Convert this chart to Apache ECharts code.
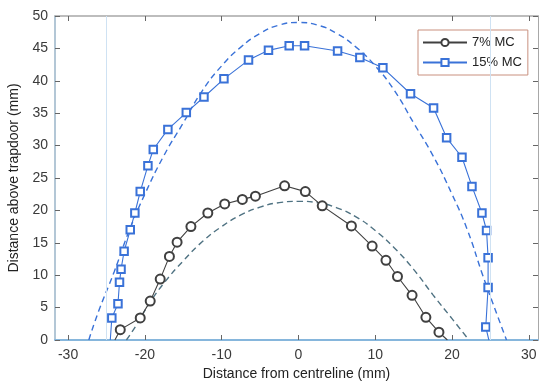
<!DOCTYPE html>
<html>
<head>
<meta charset="utf-8">
<script src="https://cdn.jsdelivr.net/npm/echarts@6/dist/echarts.min.js"></script>
<style>
  html, body { margin: 0; padding: 0; background: #fff; }
  #chart { width: 539px; height: 381px; }
</style>
</head>
<body>
<div id="chart"></div>
<script>
const mc7X = [-23.9, -23.2, -20.6, -19.3, -18.0, -16.8, -15.8, -14.0, -11.8, -9.6, -7.3, -5.6, -1.8, 0.9, 3.1, 6.9, 9.6, 11.4, 12.9, 14.8, 16.6, 18.3, 19.4];
const mc7Y = [0, 1.6, 3.4, 6.0, 9.4, 12.9, 15.1, 17.5, 19.6, 21.0, 21.7, 22.2, 23.8, 22.9, 20.7, 17.6, 14.5, 12.3, 9.8, 6.9, 3.5, 1.2, 0];

const mc15X = [-24.5, -24.3, -23.5, -23.3, -23.1, -22.7, -21.9, -21.3, -20.6, -19.6, -18.9, -17.0, -14.6, -12.3, -9.7, -6.5, -3.9, -1.2, 0.8, 5.1, 8.0, 11.0, 14.6, 17.6, 19.3, 21.3, 22.6, 23.9, 24.5, 24.7, 24.7, 24.4, 24.8];
const mc15Y = [0, 3.4, 5.6, 8.9, 10.9, 13.7, 17.0, 19.6, 22.9, 26.9, 29.4, 32.5, 35.1, 37.5, 40.3, 43.2, 44.7, 45.4, 45.4, 44.6, 43.6, 42.0, 38.0, 35.8, 31.2, 28.2, 23.7, 19.6, 16.9, 12.7, 8.1, 2.0, 0];

// dashed fitted curves
const fit7X = [-22.4, -21, -19.5, -17.5, -15, -12.5, -10, -7.5, -5, -2.5, 0, 2.5, 5, 7.5, 10, 12.5, 15, 17.5, 20, 22.2];
const fit7Y = [0, 2.5, 5.5, 8.8, 12.2, 15.2, 17.5, 19.3, 20.5, 21.2, 21.4, 21.2, 20.4, 19.0, 16.9, 14.2, 10.9, 7.0, 3.3, 0];

const fit15X = [-27.3, -26, -24, -22, -20, -17.5, -15, -12.5, -10, -7.5, -5, -2.5, 0, 2.5, 5, 7.5, 10, 12.5, 15, 17.5, 20, 22, 24, 26, 27.1];
const fit15Y = [0, 4.5, 10.5, 17.0, 22.5, 28.5, 33.5, 38.5, 42.3, 45.2, 47.3, 48.6, 49.0, 48.6, 47.3, 45.2, 42.3, 38.5, 33.5, 28.5, 22.5, 17.0, 10.0, 3.5, 0];

const trapdoorEdges = [-25, 25];
const xTicks = [-30, -20, -10, 0, 10, 20, 30];

const FONT = '"Liberation Sans", Arial, sans-serif';

function pairs(xs, ys) {
  return xs.map((x, i) => [x, ys[i]]);
}
// end points sitting on the floor carry no marker
function measured(xs, ys) {
  return xs.map((x, i) => ys[i] === 0 ? { value: [x, ys[i]], symbol: "none" } : [x, ys[i]]);
}

const chart = echarts.init(document.getElementById("chart"));

const axisFont = { fontFamily: FONT, fontSize: 14, color: "#3a3a3a" };
const tickIn = { show: true, inside: true, length: 5, lineStyle: { color: "#666", width: 1 } };

chart.setOption({
  animation: false,
  grid: { left: 55, top: 16, right: 1, bottom: 41, containLabel: false, outerBoundsMode: "none" },
  legend: {
    data: ["7% MC", "15% MC"],
    orient: "vertical",
    left: 418,
    top: 30,
    padding: [6, 6, 6, 4],
    itemWidth: 44,
    itemHeight: 9,
    itemGap: 7,
    borderColor: "#c9907f",
    borderWidth: 1,
    backgroundColor: "#fff",
    textStyle: { fontFamily: FONT, fontSize: 13, color: "#222" },
  },
  xAxis: [
    {
      type: "value",
      min: -31.7,
      max: 31.2,
      position: "bottom",
      name: "Distance from centreline (mm)",
      nameLocation: "middle",
      nameGap: 25,
      nameTextStyle: { fontFamily: FONT, fontSize: 14, color: "#222" },
      axisLine: { show: true, onZero: false, lineStyle: { color: "#86b6dc", width: 2 } },
      axisTick: Object.assign({ customValues: xTicks }, tickIn),
      axisLabel: { customValues: xTicks, margin: 8, ...axisFont },
      splitLine: { show: false },
    },
    {
      type: "value",
      min: -31.7,
      max: 31.2,
      position: "top",
      axisLine: { show: true, onZero: false, lineStyle: { color: "#a8a8a8", width: 1.5 } },
      axisTick: Object.assign({ customValues: xTicks }, tickIn),
      axisLabel: { show: false },
      splitLine: { show: false },
    },
  ],
  yAxis: [
    {
      type: "value",
      min: 0,
      max: 50,
      interval: 5,
      position: "left",
      name: "Distance above trapdoor (mm)",
      nameLocation: "middle",
      nameGap: 29,
      nameTextStyle: { fontFamily: FONT, fontSize: 14, color: "#222" },
      axisLine: { show: true, onZero: false, lineStyle: { color: "#9ab4c8", width: 1.5 } },
      axisTick: tickIn,
      axisLabel: { margin: 7, ...axisFont },
      splitLine: { show: false },
    },
    {
      type: "value",
      min: 0,
      max: 50,
      interval: 5,
      position: "right",
      axisLine: { show: true, onZero: false, lineStyle: { color: "#a8a8a8", width: 1 } },
      axisTick: tickIn,
      axisLabel: { show: false },
      splitLine: { show: false },
    },
  ],
  series: [
    {
      name: "15% fit",
      type: "line",
      data: pairs(fit15X, fit15Y),
      smooth: true,
      showSymbol: false,
      lineStyle: { color: "#3a72d8", width: 1.4, type: [6, 4] },
      z: 2,
      markLine: {
        silent: true,
        symbol: "none",
        label: { show: false },
        lineStyle: { color: "#cfe2f3", width: 1, type: "solid" },
        data: trapdoorEdges.map((x) => ({ xAxis: x })),
      },
    },
    {
      name: "7% fit",
      type: "line",
      data: pairs(fit7X, fit7Y),
      smooth: true,
      showSymbol: false,
      lineStyle: { color: "#4f7282", width: 1.4, type: [6, 4] },
      z: 2,
    },
    {
      name: "7% MC",
      type: "line",
      data: measured(mc7X, mc7Y),
      symbol: "emptyCircle",
      symbolSize: 9,
      color: "#404040",
      itemStyle: { color: "#404040", borderWidth: 1 },
      lineStyle: { color: "#404040", width: 1.1 },
      z: 3,
    },
    {
      name: "15% MC",
      type: "line",
      data: measured(mc15X, mc15Y),
      symbol: "emptyRect",
      symbolSize: 7.5,
      color: "#3a72d8",
      itemStyle: { color: "#3a72d8", borderWidth: 1 },
      lineStyle: { color: "#3a72d8", width: 1.1 },
      z: 3,
    },
  ],
});
</script>
</body>
</html>
